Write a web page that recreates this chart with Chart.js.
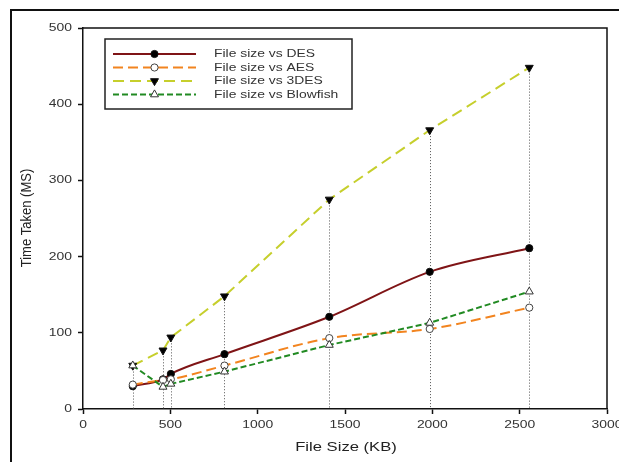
<!DOCTYPE html>
<html>
<head>
<meta charset="utf-8">
<script src="https://cdn.jsdelivr.net/npm/chart.js@4.4.1/dist/chart.umd.min.js"></script>
<style>
html,body{margin:0;padding:0;background:#fff;}
#wrap{width:619px;height:462px;position:relative;}
</style>
</head>
<body>
<div id="wrap"><canvas id="c" width="619" height="462"></canvas></div>
<script>
const fileSizes = [285, 458, 503, 810, 1410, 1985, 2555];
const desTimes = [30, 39, 46, 72, 121, 180, 211];
const aesTimes = [32, 38, 39, 57, 93, 105, 133];
const tdesTimes = [57, 77, 94, 148, 275, 366, 448];
const blowfishTimes = [57, 29, 33, 49, 84, 113, 154];
const seriesLabels = ['File size vs DES', 'File size vs AES', 'File size vs 3DES', 'File size vs Blowfish'];
const xTicks = [0, 500, 1000, 1500, 2000, 2500, 3000];
const yTicks = [0, 100, 200, 300, 400, 500];
const xTitle = 'File Size (KB)';
const yTitle = 'Time Taken (MS)';

const toXY = arr => arr.map((v, i) => ({x: fileSizes[i], y: v}));
const FONT = "'Liberation Sans', Arial, sans-serif";
const SX = 1.3; // horizontal stretch of the original figure's text

function stretchedText(ctx, text, x, y, size, align, color, sx) {
  ctx.save();
  ctx.font = size + 'px ' + FONT;
  ctx.fillStyle = color;
  ctx.textAlign = align;
  ctx.textBaseline = 'middle';
  ctx.translate(x, y);
  ctx.scale(sx, 1);
  ctx.fillText(text, 0, 0);
  ctx.restore();
}

function drawMarker(ctx, ds, x, y) {
  ctx.save();
  ctx.setLineDash([]);
  ctx.fillStyle = ds.pointBackgroundColor;
  ctx.strokeStyle = ds.pointBorderColor;
  ctx.lineWidth = ds.pointBorderWidth;
  Chart.helpers.drawPoint(ctx, {
    pointStyle: ds.pointStyle,
    rotation: ds.pointRotation || 0,
    radius: ds.pointRadius,
    borderWidth: ds.pointBorderWidth
  }, x, y);
  ctx.restore();
}

const frame = {
  id: 'frame',
  beforeDraw(chart) {
    const ctx = chart.ctx;
    ctx.save();
    ctx.fillStyle = '#fff';
    ctx.fillRect(0, 0, chart.width, chart.height);
    ctx.strokeStyle = '#111';
    ctx.lineWidth = 2;
    ctx.beginPath();
    ctx.moveTo(11, chart.height + 2);
    ctx.lineTo(11, 10);
    ctx.lineTo(chart.width + 2, 10);
    ctx.stroke();
    ctx.restore();
  },
  beforeDatasetsDraw(chart) {
    const ctx = chart.ctx;
    const xs = chart.scales.x, ys = chart.scales.y;
    ctx.save();
    ctx.strokeStyle = '#555';
    ctx.lineWidth = 1;
    ctx.setLineDash([1, 2]);
    fileSizes.forEach((fs, i) => {
      const top = Math.max(desTimes[i], aesTimes[i], tdesTimes[i], blowfishTimes[i]);
      const px = Math.round(xs.getPixelForValue(fs)) + 0.5;
      ctx.beginPath();
      ctx.moveTo(px, ys.getPixelForValue(top));
      ctx.lineTo(px, ys.getPixelForValue(0));
      ctx.stroke();
    });
    ctx.restore();
  },
  afterDraw(chart) {
    const ctx = chart.ctx;
    const a = chart.chartArea;
    const xs = chart.scales.x, ys = chart.scales.y;
    ctx.save();
    ctx.strokeStyle = '#111';
    ctx.lineWidth = 1.5;
    ctx.beginPath();
    ctx.moveTo(a.left, a.top);
    ctx.lineTo(a.right, a.top);
    ctx.lineTo(a.right, a.bottom);
    ctx.stroke();
    ctx.restore();

    // tick labels
    xTicks.forEach(v => stretchedText(ctx, String(v), xs.getPixelForValue(v), 425.5, 10.7, 'center', '#333', SX));
    yTicks.forEach(v => stretchedText(ctx, String(v), 72, ys.getPixelForValue(v), 10.7, 'right', '#333', SX));

    // axis titles
    stretchedText(ctx, xTitle, (a.left + a.right) / 2 + 1, 447.5, 12.5, 'center', '#222', 1.33);
    ctx.save();
    ctx.translate(27, 218);
    ctx.rotate(-Math.PI / 2);
    ctx.font = '13px ' + FONT;
    ctx.fillStyle = '#222';
    ctx.textAlign = 'center';
    ctx.textBaseline = 'middle';
    ctx.scale(1, 1.15);
    ctx.fillText(yTitle, 0, 0);
    ctx.restore();

    // legend
    ctx.save();
    const lx = 105, ly = 39, lw = 247, lh = 70;
    ctx.fillStyle = '#fff';
    ctx.fillRect(lx, ly, lw, lh);
    ctx.lineWidth = 1.5;
    ctx.strokeStyle = '#222';
    ctx.strokeRect(lx, ly, lw, lh);
    const rows = [54, 67.5, 81, 94.5];
    chart.data.datasets.forEach((ds, i) => {
      const y = rows[i];
      ctx.save();
      ctx.strokeStyle = ds.borderColor;
      ctx.lineWidth = ds.borderWidth;
      ctx.setLineDash(ds.borderDash || []);
      ctx.beginPath();
      ctx.moveTo(113, y);
      ctx.lineTo(196, y);
      ctx.stroke();
      ctx.restore();
      drawMarker(ctx, ds, 154.5, y);
      stretchedText(ctx, ds.label, 214, y + 0.5, 10.7, 'left', '#333', SX);
    });
    ctx.restore();
  }
};

const common = {
  borderWidth: 2,
  pointRadius: 3.6,
  pointHoverRadius: 3.6,
  pointBorderWidth: 1,
  pointBorderColor: '#111',
  fill: false
};

new Chart(document.getElementById('c'), {
  type: 'line',
  data: {
    datasets: [
      Object.assign({}, common, {
        label: seriesLabels[0], data: toXY(desTimes),
        borderColor: '#7f1416', pointStyle: 'circle', pointBackgroundColor: '#000',
        cubicInterpolationMode: 'monotone', order: 3
      }),
      Object.assign({}, common, {
        label: seriesLabels[1], data: toXY(aesTimes),
        borderColor: '#f2841f', borderDash: [10, 5], pointStyle: 'circle', pointBackgroundColor: '#fff',
        pointBorderColor: '#444',
        cubicInterpolationMode: 'monotone', order: 2
      }),
      Object.assign({}, common, {
        label: seriesLabels[2], data: toXY(tdesTimes),
        borderColor: '#c6cf2c', borderDash: [11, 6], pointStyle: 'triangle', pointRotation: 180,
        pointRadius: 4.6, pointHoverRadius: 4.6,
        pointBackgroundColor: '#000', tension: 0, order: 1
      }),
      Object.assign({}, common, {
        label: seriesLabels[3], data: toXY(blowfishTimes),
        borderColor: '#218a22', borderDash: [6, 3], pointStyle: 'triangle', pointBackgroundColor: '#fff',
        pointRadius: 4.6, pointHoverRadius: 4.6,
        pointBorderColor: '#333', tension: 0, order: 0
      })
    ]
  },
  options: {
    responsive: false,
    animation: false,
    events: [],
    layout: {padding: {left: 0, right: 12, top: 28, bottom: 0}},
    plugins: {legend: {display: false}, tooltip: {enabled: false}},
    scales: {
      x: {
        type: 'linear', min: 0, max: 3000,
        afterBuildTicks: s => { s.ticks = xTicks.map(v => ({value: v})); },
        afterFit: s => { s.height = 53; s.paddingLeft = 0; s.paddingRight = 0; },
        grid: {drawOnChartArea: false, drawTicks: true, tickLength: 5, color: '#111', tickWidth: 1.5},
        border: {display: true, color: '#111', width: 1.5},
        ticks: {color: 'rgba(0,0,0,0)', padding: 4, maxRotation: 0, callback: v => String(v), font: {family: FONT, size: 8}},
        title: {display: false}
      },
      y: {
        type: 'linear', min: 0, max: 500,
        afterBuildTicks: s => { s.ticks = yTicks.map(v => ({value: v})); },
        afterFit: s => { s.width = 83; s.paddingTop = 0; s.paddingBottom = 0; },
        grid: {drawOnChartArea: false, drawTicks: true, tickLength: 5, color: '#111', tickWidth: 1.5},
        border: {display: true, color: '#111', width: 1.5},
        ticks: {color: 'rgba(0,0,0,0)', padding: 6, callback: v => String(v), font: {family: FONT, size: 8}},
        title: {display: false}
      }
    }
  },
  plugins: [frame]
});
</script>
</body>
</html>
